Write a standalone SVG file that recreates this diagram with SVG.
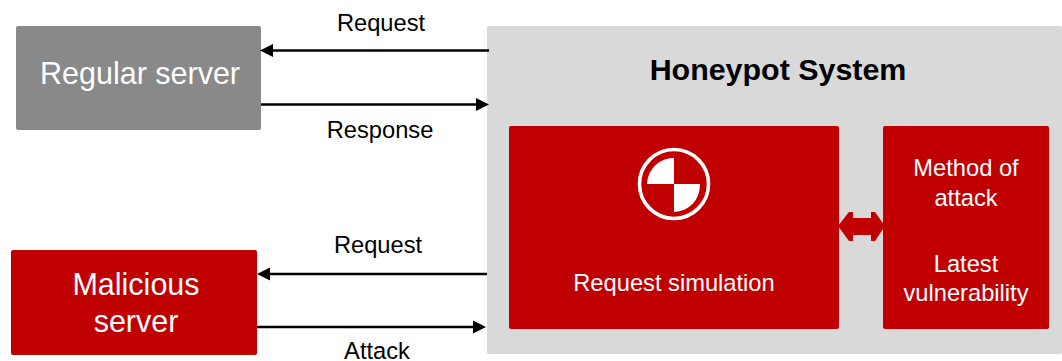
<svg xmlns="http://www.w3.org/2000/svg" width="1062" height="361" viewBox="0 0 1062 361">
<style>
text{font-family:"Liberation Sans",Arial,sans-serif;text-anchor:middle}
.w{fill:#fff}.k{fill:#000;font-size:23.7px}
.c{stroke:#000;stroke-width:2.4;fill:none}
.h{fill:#000}
.r{fill:#c00000}
</style>
<rect width="1062" height="361" fill="#fff"/>
<g id="honeypot-system">
<rect x="487" y="26" width="575" height="328" rx="2" fill="#d9d9d9"/>
<text x="778" y="80" font-size="30.4" font-weight="700" fill="#000">Honeypot System</text>
</g>
<g id="regular-server">
<rect x="16" y="26" width="245" height="104" rx="2" fill="#898989"/>
<text class="w" x="140" y="84" font-size="30.5">Regular server</text>
</g>
<g id="malicious-server">
<rect class="r" x="11" y="250" width="246" height="105" rx="2"/>
<text class="w" x="136" y="295" font-size="30.5">Malicious</text>
<text class="w" x="136" y="332" font-size="30.5">server</text>
</g>
<g id="request-simulation">
<rect class="r" x="509" y="126" width="330" height="203" rx="2"/>
<circle cx="674" cy="184" r="34.5" fill="none" stroke="#fff" stroke-width="3.6"/>
<path class="w" d="M674 184V158A26 27 0 0 0 647 184ZM674 184H700A26 27 0 0 1 674 212Z"/>
<text class="w" x="674" y="291" font-size="23.7">Request simulation</text>
</g>
<g id="attack-info">
<rect class="r" x="883" y="126" width="166" height="203" rx="2"/>
<text class="w" x="966" y="176" font-size="23.7">Method of</text>
<text class="w" x="966" y="206" font-size="23.7">attack</text>
<text class="w" x="966" y="272" font-size="23.7">Latest</text>
<text class="w" x="966" y="301" font-size="23.7">vulnerability</text>
</g>
<g id="connectors">
<path class="c" d="M489 50.500H270"/>
<path class="h" d="M260 50.500L273 44V57Z"/>
<path class="c" d="M261 104.500H478"/>
<path class="h" d="M489 104.500L476 98V111Z"/>
<path class="c" d="M487 274H266"/>
<path class="h" d="M257 274L270 267.500V280.500Z"/>
<path class="c" d="M257 327H476"/>
<path class="h" d="M486 327L473 320.500V333.500Z"/>
<path class="r" d="M838 226L849 212H853V218H871V212H875L885 226L875 241H871V235H853V241H849Z"/>
</g>
<g id="labels">
<text class="k" x="381" y="31">Request</text>
<text class="k" x="380" y="138">Response</text>
<text class="k" x="378" y="253">Request</text>
<text class="k" x="377" y="359">Attack</text>
</g>
</svg>
